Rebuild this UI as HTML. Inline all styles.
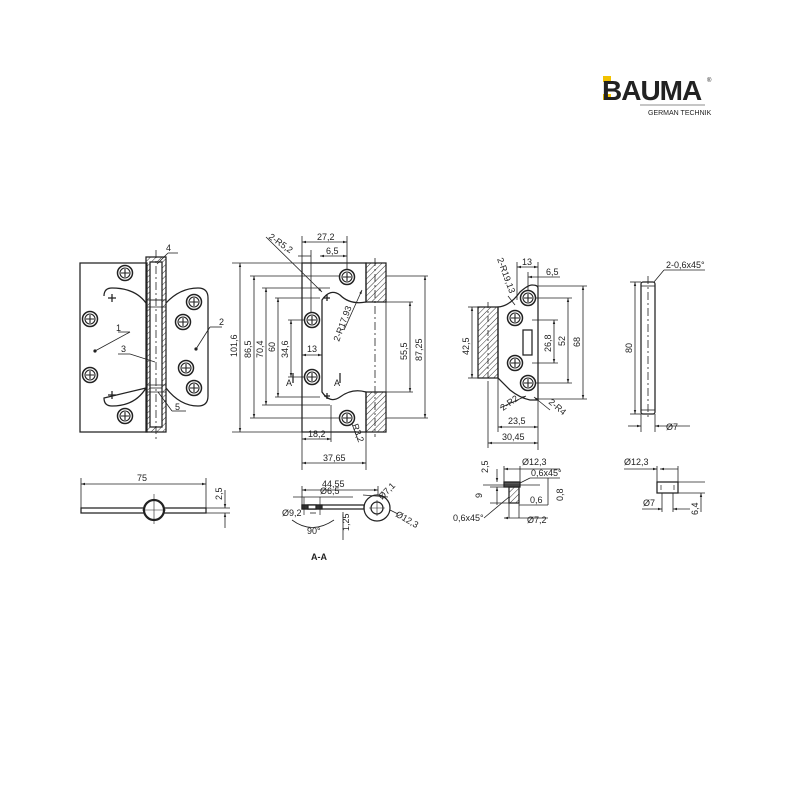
<!DOCTYPE html>
<html><head><meta charset="utf-8"><style>
html,body{margin:0;padding:0;background:#fff;}
svg{display:block;}
text{font-family:"Liberation Sans",Arial,sans-serif;fill:#222;}
svg > g line{stroke-width:0.8px;}
svg > g rect, svg > g path, svg > g circle{stroke-width:1.25px;}
</style></head><body>
<svg width="800" height="800" viewBox="0 0 800 800" xmlns="http://www.w3.org/2000/svg">
<defs>
<marker id="a" viewBox="0 0 10 10" refX="10" refY="5" markerWidth="5" markerHeight="5" orient="auto-start-reverse"><path d="M0,2 L10,5 L0,8 z" fill="#222"/></marker>
<pattern id="h" width="4" height="4" patternUnits="userSpaceOnUse" patternTransform="rotate(45)"><line x1="0" y1="0" x2="0" y2="4" stroke="#333" stroke-width="1"/></pattern>
<g id="s"><circle r="7.5" fill="#fff" stroke="#222" stroke-width="1.5"/><circle r="5" fill="none" stroke="#222" stroke-width="1.1"/><path d="M-4,0H4M0,-4V4" stroke="#222" stroke-width="1.1"/></g>
</defs>
<!-- logo -->
<rect x="603" y="76" width="8" height="6" fill="#f2c200"/><rect x="603" y="94" width="8" height="6" fill="#f2c200"/>
<text x="602" y="100" font-size="28" font-weight="bold" fill="#111" style="letter-spacing:-1px">BAUMA</text>
<text x="707" y="82" font-size="6">®</text>
<text x="648" y="115" font-size="7">GERMAN TECHNIK</text>
<g fill="none" stroke="#222" stroke-width="0.9">
<line x1="640" y1="105" x2="705" y2="105" stroke="#666" stroke-width="0.6"/>
<!-- VIEW 1 -->
<rect x="80" y="263" width="67" height="169"/>
<path d="M104,296 Q104,288 112,288 Q135,288 146,303 M166,303 Q180,288 198,288 Q208,288 208,298 L208,396 Q208,406 198,406 Q180,406 166,388 M146,388 Q135,406 112,406 Q104,406 104,398 Z"/>
<rect x="146" y="257" width="20" height="175" fill="url(#h)"/>
<rect x="150" y="262" width="12" height="165" fill="#fff"/>
<line x1="150" y1="300" x2="162" y2="300"/><line x1="150" y1="388" x2="162" y2="388"/>
<line x1="146" y1="300" x2="166" y2="300"/><line x1="146" y1="307" x2="166" y2="307"/>
<line x1="146" y1="385" x2="166" y2="385"/><line x1="146" y1="392" x2="166" y2="392"/>
<line x1="156" y1="250" x2="156" y2="440" stroke-dasharray="8,3,2,3"/>
<path d="M108,298h8M112,294v8M108,395h8M112,391v8"/>
<line x1="130" y1="332" x2="95" y2="351"/><line x1="118" y1="332" x2="130" y2="332"/>
<line x1="210" y1="327" x2="222" y2="327"/><line x1="210" y1="327" x2="196" y2="349"/>
<line x1="118" y1="354" x2="130" y2="354"/><line x1="130" y1="354" x2="155" y2="362"/>
<line x1="168" y1="253" x2="178" y2="253"/><line x1="168" y1="253" x2="157" y2="264"/>
<line x1="172" y1="411" x2="186" y2="411"/><line x1="172" y1="411" x2="158" y2="392"/>
<!-- dims view1/2 -->
<line x1="232" y1="263" x2="302" y2="263"/><line x1="232" y1="432" x2="302" y2="432"/>
<line x1="240" y1="263" x2="240" y2="432" marker-start="url(#a)" marker-end="url(#a)"/>
<line x1="250" y1="276" x2="350" y2="276"/><line x1="250" y1="418" x2="350" y2="418"/>
<line x1="254" y1="276" x2="254" y2="418" marker-start="url(#a)" marker-end="url(#a)"/>
<line x1="262" y1="288" x2="330" y2="288"/><line x1="262" y1="405" x2="330" y2="405"/>
<line x1="266" y1="288" x2="266" y2="405" marker-start="url(#a)" marker-end="url(#a)"/>
<line x1="275" y1="298" x2="320" y2="298"/><line x1="275" y1="397" x2="320" y2="397"/>
<line x1="278" y1="298" x2="278" y2="397" marker-start="url(#a)" marker-end="url(#a)"/>
<line x1="288" y1="320" x2="312" y2="320"/><line x1="288" y1="377" x2="312" y2="377"/>
<line x1="291" y1="320" x2="291" y2="377" marker-start="url(#a)" marker-end="url(#a)"/>
<!-- VIEW 2 -->
<path d="M302,263 L366,263 L366,302 Q350,305 340,295 Q330,288 322,300 L322,392 Q330,404 340,397 Q352,388 366,392 L366,432 L302,432 Z"/>
<rect x="366" y="263" width="20" height="39" fill="url(#h)"/>
<rect x="366" y="392" width="20" height="40" fill="url(#h)"/>
<line x1="375" y1="258" x2="375" y2="437" stroke-dasharray="8,3,2,3"/>
<line x1="386" y1="302" x2="386" y2="392"/>
<path d="M324,298h6M327,295v6M324,396h6M327,393v6"/>
<line x1="302" y1="236" x2="302" y2="263"/><line x1="347" y1="236" x2="347" y2="270"/>
<line x1="302" y1="242" x2="347" y2="242" marker-start="url(#a)" marker-end="url(#a)"/>
<line x1="311" y1="250" x2="311" y2="320"/>
<line x1="320" y1="256" x2="347" y2="256" marker-start="url(#a)" marker-end="url(#a)"/>
<line x1="298" y1="256" x2="311" y2="256"/>
<line x1="302" y1="355" x2="322" y2="355" marker-start="url(#a)" marker-end="url(#a)"/>
<line x1="302" y1="432" x2="302" y2="470"/>
<line x1="331" y1="405" x2="331" y2="442"/>
<line x1="302" y1="439" x2="331" y2="439" marker-start="url(#a)" marker-end="url(#a)"/>
<line x1="366" y1="432" x2="366" y2="470"/>
<line x1="302" y1="463" x2="366" y2="463" marker-start="url(#a)" marker-end="url(#a)"/>
<line x1="386" y1="302" x2="413" y2="302"/><line x1="386" y1="392" x2="413" y2="392"/>
<line x1="410" y1="302" x2="410" y2="392" marker-start="url(#a)" marker-end="url(#a)"/>
<line x1="386" y1="276" x2="428" y2="276"/><line x1="386" y1="418" x2="428" y2="418"/>
<line x1="425" y1="276" x2="425" y2="418" marker-start="url(#a)" marker-end="url(#a)"/>
<line x1="266" y1="237" x2="322" y2="292" marker-end="url(#a)"/>
<line x1="344" y1="330" x2="362" y2="290" marker-end="url(#a)"/>
<line x1="352" y1="424" x2="358" y2="440"/>
<path d="M293,373v10M340,373v10"/>
<!-- VIEW 3 -->
<path d="M538,288 L538,400 L530,400 Q520,398 510,390 Q502,382 498,378 L498,307 Q510,306 520,292 Q528,285 532,285 Q538,285 538,288 Z"/>
<rect x="478" y="307" width="20" height="71" fill="url(#h)"/>
<line x1="488" y1="302" x2="488" y2="383" stroke-dasharray="6,3,2,3"/>
<rect x="523" y="330" width="9" height="25"/>
<line x1="468" y1="307" x2="478" y2="307"/><line x1="468" y1="378" x2="478" y2="378"/>
<line x1="472" y1="307" x2="472" y2="378" marker-start="url(#a)" marker-end="url(#a)"/>
<line x1="517" y1="262" x2="517" y2="300"/><line x1="538" y1="262" x2="538" y2="288"/>
<line x1="517" y1="267" x2="538" y2="267" marker-start="url(#a)" marker-end="url(#a)"/>
<line x1="528" y1="272" x2="528" y2="298"/>
<line x1="528" y1="277" x2="560" y2="277" marker-start="url(#a)"/>
<line x1="532" y1="320" x2="558" y2="320"/><line x1="532" y1="363" x2="558" y2="363"/>
<line x1="554" y1="320" x2="554" y2="363" marker-start="url(#a)" marker-end="url(#a)"/>
<line x1="530" y1="298" x2="572" y2="298"/><line x1="530" y1="383" x2="572" y2="383"/>
<line x1="568" y1="298" x2="568" y2="383" marker-start="url(#a)" marker-end="url(#a)"/>
<line x1="538" y1="286" x2="587" y2="286"/><line x1="538" y1="399" x2="587" y2="399"/>
<line x1="583" y1="286" x2="583" y2="399" marker-start="url(#a)" marker-end="url(#a)"/>
<line x1="498" y1="378" x2="498" y2="432"/><line x1="538" y1="400" x2="538" y2="450"/>
<line x1="498" y1="427" x2="538" y2="427" marker-start="url(#a)" marker-end="url(#a)"/>
<line x1="488" y1="383" x2="488" y2="448"/>
<line x1="488" y1="443" x2="538" y2="443" marker-start="url(#a)" marker-end="url(#a)"/>
<line x1="508" y1="296" x2="515" y2="305"/>
<line x1="500" y1="408" x2="526" y2="396" marker-end="url(#a)"/>
<line x1="550" y1="410" x2="534" y2="397" marker-end="url(#a)"/>
<!-- VIEW 4 pin -->
<rect x="641" y="282" width="14" height="132" rx="2"/>
<line x1="648" y1="276" x2="648" y2="420" stroke-dasharray="8,3,2,3"/>
<line x1="641" y1="286" x2="655" y2="286"/><line x1="641" y1="410" x2="655" y2="410"/>
<line x1="630" y1="282" x2="641" y2="282"/><line x1="630" y1="414" x2="641" y2="414"/>
<line x1="635" y1="282" x2="635" y2="414" marker-start="url(#a)" marker-end="url(#a)"/>
<line x1="641" y1="414" x2="641" y2="432"/><line x1="655" y1="414" x2="655" y2="432"/>
<line x1="628" y1="426" x2="641" y2="426" marker-end="url(#a)"/><line x1="655" y1="426" x2="690" y2="426" marker-start="url(#a)"/>
<line x1="654" y1="282" x2="664" y2="270"/><line x1="664" y1="270" x2="705" y2="270"/>
<!-- BOTTOM: side view 1 -->
<rect x="81" y="508" width="125" height="5" fill="#fff"/>
<circle cx="154" cy="510" r="10" fill="#fff" style="stroke-width:2.2px"/>
<path d="M154,494v30M142,510h24" style="stroke-width:0.6px"/>
<line x1="81" y1="478" x2="81" y2="508"/><line x1="206" y1="478" x2="206" y2="508"/>
<line x1="81" y1="484" x2="206" y2="484" marker-start="url(#a)" marker-end="url(#a)"/>
<line x1="206" y1="508" x2="230" y2="508"/><line x1="206" y1="513" x2="230" y2="513"/>
<line x1="225" y1="490" x2="225" y2="508" marker-end="url(#a)"/><line x1="225" y1="513" x2="225" y2="528" marker-start="url(#a)"/>
<!-- A-A -->
<rect x="302" y="505" width="62" height="4" fill="#fff"/>
<rect x="302" y="505" width="20" height="4" fill="#333"/>
<rect x="308" y="505" width="8" height="4" fill="#fff"/>
<circle cx="377" cy="508" r="13"/><circle cx="377" cy="508" r="6"/>
<path d="M369,508h16M377,500v16" style="stroke-width:0.6px"/>
<line x1="302" y1="486" x2="302" y2="505"/><line x1="378" y1="486" x2="378" y2="495"/>
<line x1="302" y1="490" x2="378" y2="490" marker-start="url(#a)" marker-end="url(#a)"/>
<line x1="293" y1="497" x2="353" y2="497"/>
<path d="M304,497v18M320,497v18" style="stroke-width:0.7px"/>
<path d="M292,520 Q312,535 334,520" style="stroke-width:0.8px"/>
<line x1="310" y1="513" x2="316" y2="513"/>
<line x1="343" y1="512" x2="343" y2="540"/>
<line x1="363" y1="495" x2="388" y2="497"/>
<line x1="390" y1="510" x2="398" y2="514"/>
<!-- bushing -->
<rect x="504" y="482" width="16" height="5" fill="#555"/>
<rect x="509" y="487" width="10" height="16" fill="url(#h)"/>
<line x1="483" y1="485" x2="540" y2="485"/>
<line x1="497" y1="469" x2="497" y2="482" marker-end="url(#a)"/>
<line x1="497" y1="487" x2="497" y2="505" marker-start="url(#a)"/>
<line x1="490" y1="487" x2="515" y2="487"/>
<line x1="490" y1="503" x2="510" y2="503"/>
<line x1="504" y1="466" x2="504" y2="482"/><line x1="520" y1="466" x2="520" y2="482"/>
<line x1="504" y1="469" x2="560" y2="469" marker-start="url(#a)"/>
<line x1="520" y1="483" x2="530" y2="478"/><line x1="530" y1="478" x2="560" y2="478"/>
<line x1="509" y1="503" x2="509" y2="518"/><line x1="519" y1="503" x2="519" y2="518"/>
<line x1="504" y1="518" x2="548" y2="518" marker-start="url(#a)"/>
<line x1="519" y1="505" x2="548" y2="505"/>
<line x1="548" y1="478" x2="548" y2="505"/>
<line x1="484" y1="518" x2="509" y2="497"/>
<!-- pin end -->
<rect x="657" y="482" width="21" height="11"/>
<path d="M661,485v5M674,485v5" style="stroke-width:0.7px"/>
<line x1="657" y1="466" x2="657" y2="482"/><line x1="678" y1="466" x2="678" y2="482"/>
<line x1="624" y1="469" x2="657" y2="469" marker-end="url(#a)"/>
<line x1="660" y1="469" x2="678" y2="469" marker-start="url(#a)"/>
<line x1="678" y1="482" x2="705" y2="482"/><line x1="678" y1="493" x2="705" y2="493"/>
<line x1="662" y1="493" x2="662" y2="512"/><line x1="673" y1="493" x2="673" y2="512"/>
<line x1="642" y1="509" x2="662" y2="509" marker-end="url(#a)"/><line x1="673" y1="509" x2="690" y2="509" marker-start="url(#a)"/>
<line x1="701" y1="493" x2="701" y2="512" marker-start="url(#a)"/>
</g>
<!-- screws -->
<use href="#s" x="125" y="273"/><use href="#s" x="90" y="319"/><use href="#s" x="90" y="375"/><use href="#s" x="125" y="416"/>
<use href="#s" x="194" y="302"/><use href="#s" x="183" y="322"/><use href="#s" x="186" y="368"/><use href="#s" x="194" y="388"/>
<use href="#s" x="347" y="277"/><use href="#s" x="312" y="320"/><use href="#s" x="312" y="377"/><use href="#s" x="347" y="418"/>
<use href="#s" x="528" y="298"/><use href="#s" x="515" y="318"/><use href="#s" x="515" y="363"/><use href="#s" x="528" y="383"/>
<circle cx="95" cy="351" r="1.6" fill="#222"/><circle cx="196" cy="349" r="1.6" fill="#222"/>
<!-- labels -->
<g font-size="9">
<text x="116" y="331">1</text><text x="219" y="325">2</text><text x="121" y="352">3</text><text x="166" y="251">4</text><text x="175" y="410">5</text>
<text transform="translate(237,357) rotate(-90)">101,6</text>
<text transform="translate(251,358) rotate(-90)">86,5</text>
<text transform="translate(263,358) rotate(-90)">70,4</text>
<text transform="translate(275,352) rotate(-90)">60</text>
<text transform="translate(288,358) rotate(-90)">34,6</text>
<text x="317" y="240">27,2</text><text x="326" y="254">6,5</text>
<text x="307" y="352">13</text>
<text x="286" y="386">A</text><text x="334" y="386">A</text>
<text x="308" y="437">18,2</text><text x="323" y="461">37,65</text>
<text transform="translate(407,360) rotate(-90)">55,5</text>
<text transform="translate(422,361) rotate(-90)">87,25</text>
<text transform="translate(268,238) rotate(35)">2-R5,2</text>
<text transform="translate(339,342) rotate(-70)">2-R17,93</text>
<text transform="translate(352,425) rotate(70)">R3,2</text>
<text transform="translate(497,259) rotate(70)">2-R19,13</text>
<text x="522" y="265">13</text><text x="546" y="275">6,5</text>
<text transform="translate(469,355) rotate(-90)">42,5</text>
<text transform="translate(551,352) rotate(-90)">26,8</text>
<text transform="translate(565,346) rotate(-90)">52</text>
<text transform="translate(580,347) rotate(-90)">68</text>
<text transform="translate(503,411) rotate(-35)">2-R2</text>
<text transform="translate(548,403) rotate(40)">2-R4</text>
<text x="508" y="424">23,5</text><text x="502" y="440">30,45</text>
<text x="666" y="268">2-0,6x45°</text>
<text transform="translate(632,353) rotate(-90)">80</text>
<text x="666" y="430">Ø7</text>
<text x="137" y="481">75</text>
<text transform="translate(222,500) rotate(-90)">2,5</text>
<text x="322" y="487">44,55</text><text x="320" y="494">Ø6,5</text>
<text x="282" y="516">Ø9,2</text>
<text x="307" y="534">90°</text>
<text transform="translate(349,531) rotate(-90)">1,25</text>
<text transform="translate(382,500) rotate(-45)">Ø7,1</text>
<text transform="translate(395,516) rotate(30)">Ø12,3</text>
<text x="311" y="560" font-weight="bold">A-A</text>
<text transform="translate(488,473) rotate(-90)">2,5</text>
<text transform="translate(482,498) rotate(-90)">9</text>
<text x="522" y="465">Ø12,3</text><text x="531" y="476">0,6x45°</text>
<text transform="translate(563,501) rotate(-90)">0,8</text>
<text x="530" y="503">0,6</text>
<text x="453" y="521">0,6x45°</text>
<text x="527" y="523">Ø7,2</text>
<text x="624" y="465">Ø12,3</text>
<text x="643" y="506">Ø7</text>
<text transform="translate(698,515) rotate(-90)">6,4</text>
</g>
</svg>
</body></html>
